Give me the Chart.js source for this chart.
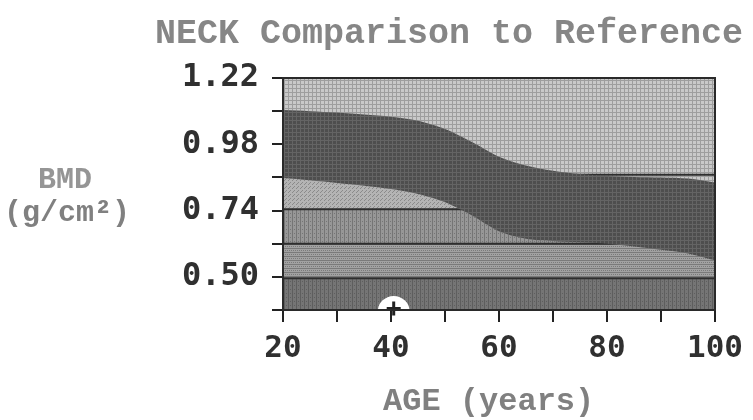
<!DOCTYPE html>
<html>
<head>
<meta charset="utf-8">
<script src="https://cdn.jsdelivr.net/npm/chart.js@4.4.1/dist/chart.umd.min.js"></script>
<style>
  html, body { margin: 0; padding: 0; background: #ffffff; }
  #wrap { position: relative; width: 753px; height: 420px; overflow: hidden; }
  #c { position: absolute; left: 0; top: 0; }
  .lbl { position: absolute; white-space: pre; font-family: "Liberation Mono", "DejaVu Sans Mono", monospace; color: #858585; line-height: 1; }
</style>
</head>
<body>
<div id="wrap">
  <canvas id="c" width="753" height="420"></canvas>
  <div class="lbl" id="title" style="left:155px; top:17px; font-size:35px; font-weight:bold; color:#868686;">NECK Comparison to Reference</div>
  <div class="lbl" id="ylab1" style="left:38px; top:165px; font-size:30px; font-weight:bold; color:#959595;">BMD</div>
  <div class="lbl" id="ylab2" style="left:4px; top:198px; font-size:30px; font-weight:bold; color:#808080;">(g/cm²)</div>
  <div class="lbl" id="xlab" style="left:383px; top:386px; font-size:32px; font-weight:bold; color:#808080;">AGE (years)</div>
</div>
<script>
// ---- data ----
const ages        = [20, 25, 30, 35, 40, 45, 50, 55, 60, 65, 70, 75, 80, 85, 90, 95, 100];
const upperCurve  = [1.104, 1.100, 1.095, 1.088, 1.080, 1.065, 1.035, 0.988, 0.935, 0.903, 0.884, 0.872, 0.865, 0.862, 0.860, 0.856, 0.842];
const lowerCurve  = [0.858, 0.850, 0.840, 0.830, 0.818, 0.800, 0.770, 0.722, 0.665, 0.638, 0.630, 0.625, 0.620, 0.610, 0.598, 0.585, 0.560];
const bandLevels  = [0.495, 0.620, 0.745, 0.870];   // horizontal reference lines
const yMin = 0.38, yMax = 1.22;
const yTicks      = [0.38, 0.50, 0.62, 0.74, 0.86, 0.98, 1.10, 1.22];
const yTickLabels = ['', '0.50', '', '0.74', '', '0.98', '', '1.22'];
const xTicks      = [20, 30, 40, 50, 60, 70, 80, 90, 100];
const xTickLabels = ['20', '', '40', '', '60', '', '80', '', '100'];
const patientAge  = [40.5];
const patientBmd  = [0.385];

// ---- texture patterns (dithered look) ----
function makePattern(base, ink, kind) {
  const c = document.createElement('canvas');
  c.width = 4; c.height = 4;
  const g = c.getContext('2d');
  g.fillStyle = base; g.fillRect(0, 0, 4, 4);
  g.fillStyle = ink;
  if (kind === 'grid') { g.fillRect(0, 0, 4, 1); g.fillRect(0, 0, 1, 4); }
  else if (kind === 'vlines') { g.fillRect(0, 0, 1, 4); g.fillRect(2, 1, 1, 1); }
  else if (kind === 'dots') { g.fillRect(0, 0, 1, 1); g.fillRect(2, 2, 1, 1); g.fillRect(1, 3, 1, 1); }
  else if (kind === 'check') { g.fillRect(0, 0, 1, 1); g.fillRect(2, 0, 1, 1); g.fillRect(1, 2, 1, 1); g.fillRect(3, 2, 1, 1); g.fillRect(0, 0, 4, 1); }
  return document.getElementById('c').getContext('2d').createPattern(c, 'repeat');
}
const pTop    = makePattern('#c9c9c9', '#9e9e9e', 'grid');
const pDark   = makePattern('#4e4e4e', '#646464', 'grid');
const pLight  = makePattern('#b4b4b4', '#8a8a8a', 'dots');
const pMed    = makePattern('#979797', '#757575', 'vlines');
const pSpeck  = makePattern('#a2a2a2', '#7a7a7a', 'check');
const pBottom = makePattern('#757575', '#5e5e5e', 'vlines');

const pts = (ys) => ages.map((a, i) => ({ x: a, y: ys[i] }));
const flat = (v) => ages.map(a => ({ x: a, y: v }));
const lineCol = '#2e2e2e';
const lineDs = (lbl, v, ord) => ({ label: lbl, data: flat(v), fill: false, borderColor: lineCol, borderWidth: 2, pointRadius: 0, order: ord });

// datasets with higher "order" are drawn first (underneath)
const datasets = [
  { label: 'top', data: flat(yMax), fill: 'start', backgroundColor: pTop, borderWidth: 0, pointRadius: 0, order: 30 },
  { label: 'b1', data: flat(bandLevels[0]), fill: 'start', backgroundColor: pBottom, borderWidth: 0, pointRadius: 0, order: 29 },
  { label: 'b2', data: flat(bandLevels[1]), fill: { value: bandLevels[0] }, backgroundColor: pSpeck, borderWidth: 0, pointRadius: 0, order: 28 },
  { label: 'b3', data: flat(bandLevels[2]), fill: { value: bandLevels[1] }, backgroundColor: pMed, borderWidth: 0, pointRadius: 0, order: 27 },
  lineDs('l1', bandLevels[0], 26),
  lineDs('l2', bandLevels[1], 25),
  { label: 'lower', data: pts(lowerCurve), fill: { target: { value: bandLevels[2] }, above: pLight, below: 'rgba(0,0,0,0)' }, borderWidth: 0, pointRadius: 0, tension: 0.3, order: 24 },
  lineDs('l3', bandLevels[2], 23),
  lineDs('l4', bandLevels[3], 22.5),
  { label: 'upper', data: pts(upperCurve), fill: 6, backgroundColor: pDark, borderWidth: 0, pointRadius: 0, tension: 0.3, order: 22 },
  { label: 'patient', type: 'scatter', data: patientAge.map((a, i) => ({ x: a, y: patientBmd[i] - 0.012 })), pointRadius: 16, pointStyle: 'circle', backgroundColor: '#ffffff', borderColor: '#ffffff', borderWidth: 0, clip: 0, order: 2 },
  { label: 'patientMark', type: 'scatter', data: patientAge.map((a, i) => ({ x: a, y: patientBmd[i] })), pointRadius: 7, pointStyle: 'cross', borderColor: '#222222', borderWidth: 3, clip: false, order: 1 }
];

const frame = {
  id: 'frame',
  afterDatasetsDraw(chart) {
    const a = chart.chartArea, ctx = chart.ctx;
    ctx.save();
    ctx.strokeStyle = '#2a2a2a';
    ctx.lineWidth = 2;
    ctx.strokeRect(a.left, a.top, a.right - a.left, a.bottom - a.top);
    ctx.restore();
  }
};

new Chart(document.getElementById('c'), {
  type: 'line',
  data: { datasets },
  plugins: [frame],
  options: {
    responsive: false,
    animation: false,
    devicePixelRatio: 1,
    layout: { padding: { left: 0, right: 38, top: 78, bottom: 0 } },
    plugins: {
      legend: { display: false },
      tooltip: { enabled: false },
      filler: { drawTime: 'beforeDatasetDraw', propagate: false }
    },
    scales: {
      x: {
        type: 'linear', min: 20, max: 100,
        afterBuildTicks: (s) => { s.ticks = xTicks.map(v => ({ value: v })); },
        afterFit: (s) => { s.height = 110; },
        ticks: {
          autoSkip: false, maxRotation: 0, padding: 8,
          color: '#303030',
          font: { family: 'DejaVu Sans Mono', size: 31, weight: 'bold' },
          callback: (v, i) => xTickLabels[i]
        },
        grid: { drawOnChartArea: false, drawTicks: true, tickLength: 12, color: '#222', lineWidth: 2 },
        border: { display: true, color: '#222', width: 2 }
      },
      y: {
        type: 'linear', min: yMin, max: yMax,
        afterBuildTicks: (s) => { s.ticks = yTicks.map(v => ({ value: v })); },
        afterFit: (s) => { s.width = 283; },
        ticks: {
          autoSkip: false, padding: 13,
          color: '#303030',
          font: { family: 'DejaVu Sans Mono', size: 32, weight: 'bold' },
          callback: (v, i) => yTickLabels[i]
        },
        grid: { drawOnChartArea: false, drawTicks: true, tickLength: 11, color: '#222', lineWidth: 2 },
        border: { display: true, color: '#222', width: 2 }
      }
    }
  }
});
</script>
</body>
</html>
